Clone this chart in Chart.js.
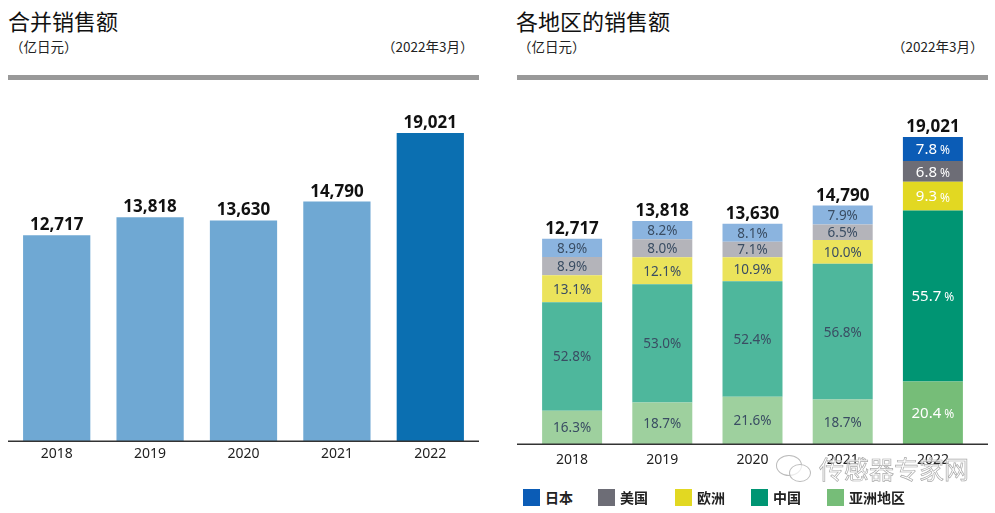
<!DOCTYPE html>
<html>
<head>
<meta charset="utf-8">
<script src="https://cdn.jsdelivr.net/npm/chart.js@4.4.1/dist/chart.umd.min.js"></script>
<style>
body { margin: 0; background: #fff; font-family: "Noto Sans CJK SC", sans-serif; }
#wrap { position: relative; width: 995px; height: 513px; overflow: hidden; }
.title { position: absolute; top: 5px; font-size: 22px; color: #111; line-height: 30px; }
.unit { position: absolute; top: 37px; font-size: 13.5px; color: #222; line-height: 18px; }
.rule { position: absolute; top: 75px; height: 5px; width: 471px; background: #999; }
.box { position: absolute; top: 90px; width: 471px; height: 390px; }
.legend { position: absolute; top: 487px; display: flex; align-items: center; font-size: 14px; font-weight: bold; color: #222; }
.legend span.sw { display: inline-block; width: 17px; height: 17px; margin-right: 5px; }
.wm { position: absolute; left: 819px; top: 450px; font-size: 25px; color: rgba(255,255,255,0.6); -webkit-text-stroke: 0.7px #aaa; }
.bub { position: absolute; border: 1px solid #bbb; border-radius: 50%; background: rgba(255,255,255,0.7); }
</style>
</head>
<body>
<div id="wrap">
  <div class="title" style="left:8px">合并销售额</div>
  <div class="unit" style="left:10px">（亿日元）</div>
  <div class="unit" style="left:382px">（2022年3月）</div>
  <div class="rule" style="left:8px"></div>
  <div class="box" style="left:8px"><canvas id="total"></canvas></div>

  <div class="title" style="left:516px">各地区的销售额</div>
  <div class="unit" style="left:518px">（亿日元）</div>
  <div class="unit" style="left:892px">（2022年3月）</div>
  <div class="rule" style="left:517px"></div>
  <div class="box" style="left:517px"><canvas id="region"></canvas></div>

  <div id="legend"></div>

  <div class="bub" style="left:776px;top:455px;width:24px;height:19px"></div>
  <div class="bub" style="left:789px;top:464px;width:20px;height:16px"></div>
  <div class="wm">传感器专家网</div>
</div>
<script>
const years = ['2018', '2019', '2020', '2021', '2022'];
const totals = [12717, 13818, 13630, 14790, 19021];

// shares by region, percent of the year's total (bottom to top in the stack)
const regions = ['亚洲地区', '中国', '欧洲', '美国', '日本'];
const asiaPct = [16.3, 18.7, 21.6, 18.7, 20.4];
const chinaPct = [52.8, 53.0, 52.4, 56.8, 55.7];
const europePct = [13.1, 12.1, 10.9, 10.0, 9.3];
const usPct = [8.9, 8.0, 7.1, 6.5, 6.8];
const japanPct = [8.9, 8.2, 8.1, 7.9, 7.8];
const pctSets = [asiaPct, chinaPct, europePct, usPct, japanPct];

const lightColors = ['#9ED09E', '#4EB79C', '#EBE35B', '#B4B4BA', '#8BB4DF'];
const darkColors = ['#76BD78', '#009573', '#E2D822', '#6D6D76', '#0B5CB6'];

const numFont = '"Noto Sans", "Noto Sans CJK SC", sans-serif';
const fmt = v => v.toLocaleString('en-US');

const baseLine = {
    id: 'baseLine',
    afterDraw(chart) {
        const ctx = chart.ctx;
        const y = chart.scales.y.getPixelForValue(0);
        ctx.save();
        ctx.strokeStyle = '#333';
        ctx.lineWidth = 1.6;
        ctx.beginPath();
        ctx.moveTo(0, y);
        ctx.lineTo(chart.width, y);
        ctx.stroke();
        ctx.restore();
    }
};

function xTicks(pad) {
    return {
        grid: { display: false, drawTicks: false },
        border: { display: false },
        ticks: { color: '#222', padding: pad, font: { family: numFont, size: 14 } }
    };
}

// left: consolidated sales
new Chart(document.getElementById('total'), {
    type: 'bar',
    data: {
        labels: years,
        datasets: [{
            data: totals,
            backgroundColor: totals.map((v, i) => i === totals.length - 1 ? '#0B6FB1' : '#6FA8D3'),
            categoryPercentage: 1,
            barPercentage: 0.72
        }]
    },
    options: {
        responsive: true,
        maintainAspectRatio: false,
        animation: false,
        layout: { padding: { top: 10, bottom: 14, left: 2, right: 2 } },
        plugins: { legend: { display: false }, tooltip: { enabled: false } },
        scales: {
            x: xTicks(4),
            y: { display: false, min: 0, max: 21060 }
        }
    },
    plugins: [baseLine, {
        id: 'totLabels',
        afterDatasetsDraw(chart) {
            const ctx = chart.ctx;
            ctx.save();
            ctx.font = 'bold 17px ' + numFont;
            ctx.fillStyle = '#111';
            ctx.textAlign = 'center';
            ctx.textBaseline = 'alphabetic';
            chart.getDatasetMeta(0).data.forEach((el, i) => {
                ctx.fillText(fmt(totals[i]), el.x, el.y - 5);
            });
            ctx.restore();
        }
    }]
});

// right: sales by region, stacked
const last = years.length - 1;
new Chart(document.getElementById('region'), {
    type: 'bar',
    data: {
        labels: years,
        datasets: regions.map((name, k) => ({
            label: name,
            data: totals.map((t, i) => t * pctSets[k][i] / 100),
            backgroundColor: years.map((y, i) => i === last ? darkColors[k] : lightColors[k]),
            categoryPercentage: 1,
            barPercentage: 0.665
        }))
    },
    options: {
        responsive: true,
        maintainAspectRatio: false,
        animation: false,
        layout: { padding: { top: 10, bottom: 5, left: 10, right: 10 } },
        plugins: { legend: { display: false }, tooltip: { enabled: false } },
        scales: {
            x: Object.assign(xTicks(7), { stacked: true }),
            y: { display: false, stacked: true, min: 0, max: 21310 }
        }
    },
    plugins: [baseLine, {
        id: 'segLabels',
        afterDatasetsDraw(chart) {
            const ctx = chart.ctx;
            ctx.save();
            ctx.textBaseline = 'middle';
            regions.forEach((name, k) => {
                chart.getDatasetMeta(k).data.forEach((el, i) => {
                    const y = (el.y + el.base) / 2 + 1;
                    const num = pctSets[k][i].toFixed(1);
                    if (i === last) {
                        ctx.fillStyle = '#fff';
                        ctx.font = '15px ' + numFont;
                        const w1 = ctx.measureText(num).width;
                        ctx.font = '12px ' + numFont;
                        const w2 = ctx.measureText('%').width;
                        const x0 = el.x - (w1 + 3 + w2) / 2;
                        ctx.textAlign = 'left';
                        ctx.font = '15px ' + numFont;
                        ctx.fillText(num, x0, y);
                        ctx.font = '12px ' + numFont;
                        ctx.fillText('%', x0 + w1 + 3, y + 1);
                    } else {
                        ctx.fillStyle = '#3A4D63';
                        ctx.font = '13.5px ' + numFont;
                        ctx.textAlign = 'center';
                        ctx.fillText(num + '%', el.x, y);
                    }
                });
            });
            ctx.font = 'bold 17px ' + numFont;
            ctx.fillStyle = '#111';
            ctx.textAlign = 'center';
            ctx.textBaseline = 'alphabetic';
            chart.getDatasetMeta(regions.length - 1).data.forEach((el, i) => {
                ctx.fillText(fmt(totals[i]), el.x, el.y - 5);
            });
            ctx.restore();
        }
    }]
});

// legend, top of stack first
const legendX = [523, 598, 675, 751, 827];
const legend = document.getElementById('legend');
regions.slice().reverse().forEach((name, j) => {
    const k = regions.length - 1 - j;
    const item = document.createElement('div');
    item.className = 'legend';
    item.style.left = legendX[j] + 'px';
    item.innerHTML = '<span class="sw" style="background:' + darkColors[k] + '"></span>' + name;
    legend.appendChild(item);
});
</script>
</body>
</html>
